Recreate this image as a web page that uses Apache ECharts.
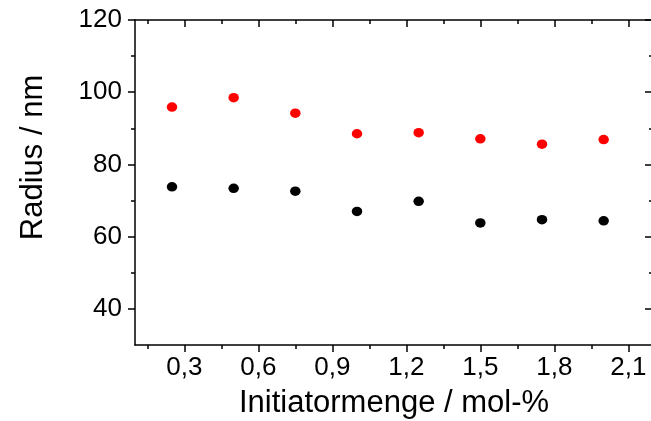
<!DOCTYPE html>
<html><head><meta charset="utf-8">
<script src="https://cdn.jsdelivr.net/npm/echarts@6/dist/echarts.min.js"></script>
<style>html,body{margin:0;padding:0;background:#fff}#c{width:651px;height:421px}</style>
</head><body><div id="c"></div>
<script>
const initiator = [0.25, 0.5, 0.75, 1.0, 1.25, 1.5, 1.75, 2.0];
const radiusRed = [95.9, 98.5, 94.2, 88.5, 88.8, 87.1, 85.6, 86.9];
const radiusBlack = [73.8, 73.4, 72.6, 67.0, 69.8, 63.8, 64.7, 64.4];
const xTickValues = [0.3, 0.6, 0.9, 1.2, 1.5, 1.8, 2.1];
const xTickLabels = ['0,3', '0,6', '0,9', '1,2', '1,5', '1,8', '2,1'];
const xMinorValues = [0.15, 0.45, 0.75, 1.05, 1.35, 1.65, 1.95];
const yTickValues = [40, 60, 80, 100, 120];
const yTickLabels = ['40', '60', '80', '100', '120'];
const yMinorValues = [50, 70, 90, 110];
const xTitle = 'Initiatormenge / mol-%';
const yTitle = 'Radius / nm';

const FONT = "'Liberation Sans', Arial, sans-serif";
const lineStyle = { color: '#000', width: 1.5 };
function lookup(vals, labels) {
  return function (v) {
    const i = vals.findIndex(t => Math.abs(t - v) < 1e-9);
    return i >= 0 ? labels[i] : '';
  };
}
function xAxisDef(opts) {
  return Object.assign({
    type: 'value', min: 0.1, max: 2.2,
    splitLine: { show: false },
    axisLine: { show: false, onZero: false, lineStyle },
    axisLabel: { show: false },
    axisTick: { show: false }
  }, opts);
}
function yAxisDef(opts) {
  return Object.assign({
    type: 'value', min: 30, max: 120,
    splitLine: { show: false },
    axisLine: { show: false, onZero: false, lineStyle },
    axisLabel: { show: false },
    axisTick: { show: false }
  }, opts);
}

const chart = echarts.init(document.getElementById('c'), null, { renderer: 'canvas' });
chart.setOption({
  animation: false,
  backgroundColor: '#fff',
  grid: { left: 135, top: 20, right: -2, bottom: 76, containLabel: false, outerBoundsMode: 'none' },
  xAxis: [
    xAxisDef({
      position: 'bottom',
      name: xTitle, nameLocation: 'middle', nameGap: 43,
      nameTextStyle: { fontFamily: FONT, fontSize: 31, color: '#000' },
      axisLine: { show: true, onZero: false, lineStyle },
      axisTick: { show: true, inside: false, length: 7, customValues: xTickValues, lineStyle },
      axisLabel: { show: true, margin: 10, customValues: xTickValues, formatter: lookup(xTickValues, xTickLabels),
        fontFamily: FONT, fontSize: 26, color: '#000' }
    }),
    xAxisDef({
      position: 'bottom',
      axisTick: { show: true, inside: false, length: 4, customValues: xMinorValues, lineStyle }
    }),
    xAxisDef({
      position: 'top',
      axisLine: { show: true, onZero: false, lineStyle },
      axisTick: { show: true, inside: true, length: 7, customValues: xTickValues, lineStyle }
    }),
    xAxisDef({
      position: 'top',
      axisTick: { show: true, inside: true, length: 4, customValues: xMinorValues, lineStyle }
    })
  ],
  yAxis: [
    yAxisDef({
      position: 'left',
      name: yTitle, nameLocation: 'middle', nameGap: 86, nameRotate: 90,
      nameTextStyle: { fontFamily: FONT, fontSize: 31, color: '#000', padding: [0, 0, 0, 50] },
      axisLine: { show: true, onZero: false, lineStyle },
      axisTick: { show: true, inside: false, length: 7, customValues: yTickValues, lineStyle },
      axisLabel: { show: true, margin: 13, customValues: yTickValues, formatter: lookup(yTickValues, yTickLabels),
        fontFamily: FONT, fontSize: 26, color: '#000' }
    }),
    yAxisDef({
      position: 'left',
      axisTick: { show: true, inside: false, length: 4, customValues: yMinorValues, lineStyle }
    }),
    yAxisDef({
      position: 'right',
      axisLine: { show: true, onZero: false, lineStyle },
      axisTick: { show: true, inside: true, length: 8, customValues: yTickValues, lineStyle }
    }),
    yAxisDef({
      position: 'right',
      axisTick: { show: true, inside: true, length: 4, customValues: yMinorValues, lineStyle }
    })
  ],
  series: [
    {
      type: 'scatter', xAxisIndex: 0, yAxisIndex: 0,
      symbol: 'circle', symbolSize: [10.5, 9.5],
      itemStyle: { color: '#ff0000', opacity: 1 },
      data: initiator.map((x, i) => [x, radiusRed[i]])
    },
    {
      type: 'scatter', xAxisIndex: 0, yAxisIndex: 0,
      symbol: 'circle', symbolSize: [10.5, 9.5],
      itemStyle: { color: '#000000', opacity: 1 },
      data: initiator.map((x, i) => [x, radiusBlack[i]])
    }
  ]
});
</script>
</body></html>
